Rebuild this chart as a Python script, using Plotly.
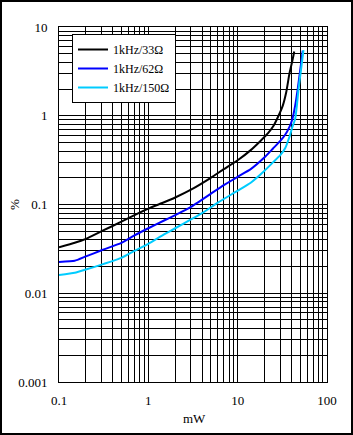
import plotly.graph_objects as go

x_33 = [0.1, 0.15, 0.2, 0.3, 0.5, 0.7, 1, 1.5, 2, 3, 5, 7, 10, 14, 18, 22, 25, 28, 32, 35, 38, 41, 43]
y_33 = [0.033, 0.037, 0.041, 0.05, 0.064, 0.076, 0.09, 0.106, 0.12, 0.147, 0.2, 0.25, 0.315, 0.41, 0.52, 0.64, 0.76, 0.95, 1.3, 1.85, 3.0, 4.2, 5.3]

x_62 = [0.1, 0.15, 0.2, 0.3, 0.5, 0.7, 1, 1.5, 2, 3, 5, 7, 10, 14, 20, 25, 30, 34, 38, 41, 44, 47, 50, 53.5]
y_62 = [0.0225, 0.0232, 0.026, 0.0305, 0.037, 0.045, 0.054, 0.066, 0.076, 0.094, 0.132, 0.165, 0.205, 0.25, 0.34, 0.43, 0.52, 0.61, 0.75, 0.92, 1.3, 2.0, 3.2, 5.4]

x_150 = [0.1, 0.15, 0.2, 0.3, 0.5, 0.7, 1, 1.5, 2, 3, 4, 6, 10, 14, 20, 25, 30, 34, 38, 41, 44, 46, 48, 51, 54.5]
y_150 = [0.016, 0.017, 0.0185, 0.021, 0.025, 0.03, 0.036, 0.046, 0.054, 0.068, 0.08, 0.105, 0.143, 0.176, 0.24, 0.3, 0.36, 0.43, 0.58, 0.75, 0.92, 1.3, 2.0, 3.2, 5.5]

series_names = ["1kHz/33Ω", "1kHz/62Ω", "1kHz/150Ω"]
series_colors = ["#000000", "#0000ff", "#00ccff"]

x_major = [0.1, 1, 10, 100]
x_major_labels = ["0.1", "1", "10", "100"]
y_major = [0.001, 0.01, 0.1, 1, 10]
y_major_labels = ["0.001", "0.01", "0.1", "1", "10"]
x_title = "mW"
y_title = "%"

def grid_vals(majors):
    vals = []
    for i, m in enumerate(majors):
        vals.append(m)
        if i < len(majors) - 1:
            for k in range(2, 10):
                vals.append(m * k)
    return vals

xv = grid_vals(x_major)
yv = grid_vals(y_major)
xt = [x_major_labels[x_major.index(v)] if v in x_major else "" for v in xv]
yt = [y_major_labels[y_major.index(v)] if v in y_major else "" for v in yv]

FONT = "Liberation Serif, Times New Roman, serif"

fig = go.Figure()
for xs, ys, nm, c in zip([x_33, x_62, x_150], [y_33, y_62, y_150], series_names, series_colors):
    fig.add_trace(go.Scatter(x=xs, y=ys, mode="lines", name=nm,
                             line=dict(color=c, width=2, shape="spline", smoothing=0.4)))

W, H = 353, 435
L, R, T, B = 59, 26, 27, 53
pw, ph = W - L - R, H - T - B

fig.update_layout(
    width=W, height=H,
    margin=dict(l=L, r=R, t=T, b=B, autoexpand=False),
    paper_bgcolor="white", plot_bgcolor="white",
    font=dict(family=FONT, size=13, color="black"),
    showlegend=True,
    legend=dict(x=(72 - L) / pw, y=(H - B - 34) / ph, xanchor="left", yanchor="top",
                bgcolor="white", bordercolor="black", borderwidth=1,
                font=dict(family=FONT, size=12, color="black"),
                itemwidth=30, tracegroupgap=0),
    xaxis=dict(type="log", range=[-1, 2], tickvals=xv, ticktext=xt,
               showgrid=True, gridcolor="black", gridwidth=1, automargin=False,
               showline=True, linecolor="black", linewidth=1, mirror=True,
               ticks="", zeroline=False, ticklabelstandoff=6,
               tickfont=dict(family=FONT, size=13)),
    yaxis=dict(type="log", range=[-3, 1], tickvals=yv, ticktext=yt,
               showgrid=True, gridcolor="black", gridwidth=1, automargin=False,
               showline=True, linecolor="black", linewidth=1, mirror=True,
               ticks="", zeroline=False, ticklabelstandoff=8,
               tickfont=dict(family=FONT, size=13)),
)

fig.add_annotation(text=x_title, xref="paper", yref="paper",
                   x=(194 - L) / pw, y=-(418 - (H - B)) / ph,
                   xanchor="center", yanchor="middle", showarrow=False,
                   font=dict(family=FONT, size=13, color="black"))
fig.add_annotation(text=y_title, xref="paper", yref="paper",
                   x=(14 - L) / pw, y=(H - B - 205) / ph, textangle=-90,
                   xanchor="center", yanchor="middle", showarrow=False,
                   font=dict(family=FONT, size=13, color="black"))

fig.add_shape(type="rect", xref="paper", yref="paper",
              x0=(1 - L) / pw, x1=(W - 1 - L) / pw,
              y0=-(B - 1) / ph, y1=(H - 1 - B) / ph,
              line=dict(color="black", width=2), fillcolor="rgba(0,0,0,0)", layer="above")

fig.write_html("out.html")
